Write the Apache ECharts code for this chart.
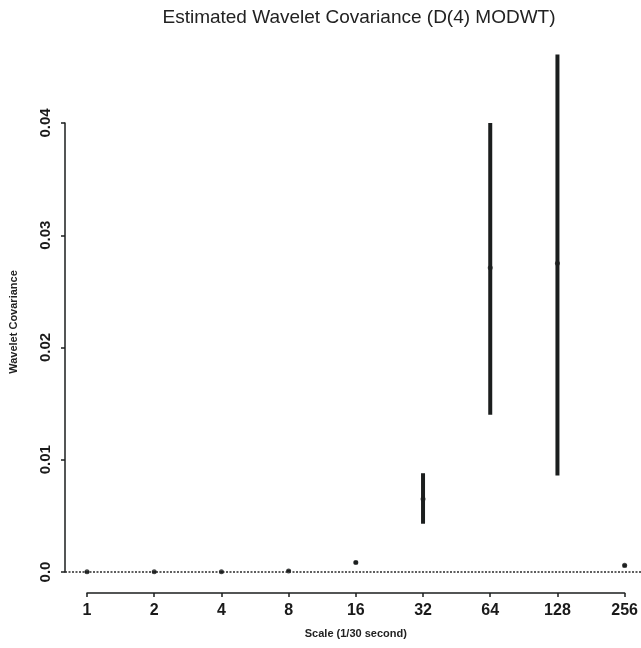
<!DOCTYPE html>
<html>
<head>
<meta charset="utf-8">
<script src="https://cdn.jsdelivr.net/npm/echarts@6/dist/echarts.min.js"></script>
<style>
html,body{margin:0;padding:0;background:#fff;}
#chart{width:641px;height:648px;}
</style>
</head>
<body>
<div id="chart"></div>
<script>
// Data
var scales   = [1, 2, 4, 8, 16, 32, 64, 128, 256];
var estimate = [0.00003, 0.00003, 0.00003, 0.00008, 0.00085, 0.0065, 0.0271, 0.0275, 0.0006];
var lower    = [-0.0001, -0.0001, -0.0001, 0.0000, 0.0007, 0.0043, 0.0140, 0.0086, 0.0004];
var upper    = [0.0001, 0.0001, 0.0001, 0.0002, 0.0010, 0.0088, 0.0400, 0.0461, 0.0007];
var yTicks   = [0, 0.01, 0.02, 0.03, 0.04];

var titleText = 'Estimated Wavelet Covariance (D(4) MODWT)';
var xName = 'Scale (1/30 second)';
var yName = 'Wavelet Covariance';

var FONT = "'Liberation Sans', Arial, Helvetica, sans-serif";
var INK = '#1b1e1e';

var ciData = scales.map(function (s, i) { return [s, lower[i], upper[i]]; });
var estData = scales.map(function (s, i) { return [s, estimate[i]]; });

var chart = echarts.init(document.getElementById('chart'), null, {renderer: 'canvas'});
chart.setOption({
  animation: false,
  backgroundColor: '#fff',
  title: {
    text: titleText,
    left: 354, top: 3, textAlign: 'center',
    textStyle: {fontFamily: FONT, fontSize: 19, fontWeight: 'normal', color: '#222'}
  },
  graphic: [{
    type: 'text', x: 14, y: 322, rotation: Math.PI / 2,
    style: {text: yName, font: 'bold 11px ' + FONT, fill: '#222', textAlign: 'center', textVerticalAlign: 'middle'}
  }],
  grid: [
    {left: 87, right: 12, top: 123, bottom: 76},
    {left: 65, right: 0, top: 123, bottom: 76}
  ],
  xAxis: [{
    gridIndex: 0, type: 'log', logBase: 2, min: 1, max: 256, splitNumber: 8,
    offset: 21,
    axisLine: {show: true, onZero: false, lineStyle: {color: INK, width: 1.5}},
    axisTick: {show: true, inside: false, length: 4, lineStyle: {color: INK, width: 1.5}},
    axisLabel: {margin: 10, fontFamily: FONT, fontSize: 16, fontWeight: 'bold', color: '#1a1a1a'},
    splitLine: {show: false},
    name: xName, nameLocation: 'middle', nameGap: 35,
    nameTextStyle: {fontFamily: FONT, fontSize: 11, fontWeight: 'bold', color: '#222'}
  }, {
    gridIndex: 1, type: 'value', min: 0, max: 1, show: false
  }],
  yAxis: [{
    gridIndex: 0, type: 'value', min: 0, max: 0.04, interval: 0.01,
    offset: 22,
    axisLine: {show: true, onZero: false, lineStyle: {color: INK, width: 1.5}},
    axisTick: {show: true, inside: false, length: 4, lineStyle: {color: INK, width: 1.5}},
    axisLabel: {
      rotate: 90, margin: 12, fontFamily: FONT, fontSize: 15, fontWeight: 'bold', color: '#1a1a1a',
      formatter: function (v) { return v === 0 ? '0.0' : v.toFixed(2); }
    },
    splitLine: {show: false}
  }, {
    gridIndex: 1, type: 'value', min: 0, max: 0.04, show: false
  }],
  series: [{
    type: 'line', xAxisIndex: 1, yAxisIndex: 1, data: [], silent: true,
    markLine: {
      symbol: 'none', silent: true, label: {show: false},
      lineStyle: {type: [2, 1.5], color: '#2a2a2a', width: 1.6},
      data: [{yAxis: yTicks[0]}]
    }
  }, {
    type: 'custom', xAxisIndex: 0, yAxisIndex: 0, clip: false,
    data: ciData,
    encode: {x: 0, y: [1, 2]},
    renderItem: function (params, api) {
      var top = api.coord([api.value(0), api.value(2)]);
      var bot = api.coord([api.value(0), api.value(1)]);
      return {
        type: 'line',
        shape: {x1: top[0], y1: top[1], x2: bot[0], y2: bot[1]},
        style: {stroke: INK, lineWidth: 4}
      };
    }
  }, {
    type: 'scatter', xAxisIndex: 0, yAxisIndex: 0, clip: false,
    data: estData, symbol: 'circle', symbolSize: 5,
    itemStyle: {color: INK}, silent: true
  }]
});
</script>
</body>
</html>
